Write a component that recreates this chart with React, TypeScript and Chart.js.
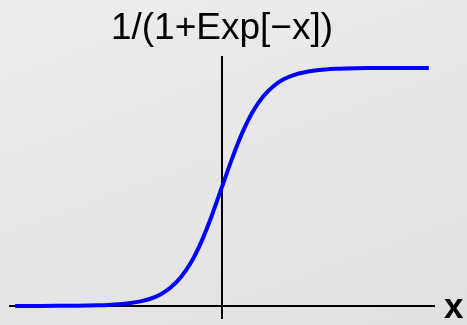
import React, { useEffect, useRef } from "react";
import { Chart, registerables } from "chart.js";

Chart.register(...registerables);

// Sample points of the logistic curve, x and y read at each position
const xValues = [
  -10, -9, -8, -7, -6.5, -6, -5.5, -5, -4.5, -4, -3.5, -3, -2.5, -2, -1.5, -1, -0.5,
  0, 0.5, 1, 1.5, 2, 2.5, 3, 3.5, 4, 4.5, 5, 5.5, 6, 6.5, 7, 8, 9, 10,
];
const yValues = [
  0.0, 0.0001, 0.0003, 0.0009, 0.0015, 0.0025, 0.004, 0.0067, 0.011, 0.018, 0.029, 0.047, 0.076, 0.119, 0.182, 0.269, 0.378,
  0.5, 0.622, 0.731, 0.818, 0.881, 0.924, 0.953, 0.971, 0.982, 0.989, 0.9933, 0.996, 0.9975, 0.9985, 0.9991, 0.9997, 0.9999, 1.0,
];

const titleText = "1/(1+Exp[\u2212x])";
const axisLabel = "x";

const FONT = "'Liberation Sans', Arial, Helvetica, sans-serif";

export default function App() {
  const canvasRef = useRef<HTMLCanvasElement | null>(null);

  useEffect(() => {
    const canvas = canvasRef.current;
    if (!canvas) return;
    const points = xValues.map((x, i) => ({ x, y: yValues[i] }));
    const onlyZero = (scale: any) => {
      scale.ticks = [{ value: 0 }];
    };
    const chart = new Chart(canvas, {
      type: "line",
      data: {
        datasets: [
          {
            data: points,
            borderColor: "#0000ff",
            borderWidth: 4,
            pointRadius: 0,
            fill: false,
            cubicInterpolationMode: "monotone",
            borderCapStyle: "butt",
            borderJoinStyle: "round",
          },
        ],
      },
      options: {
        animation: false,
        responsive: false,
        maintainAspectRatio: false,
        events: [],
        layout: { padding: { left: 9, right: 32, top: 56, bottom: 6 } },
        plugins: {
          legend: { display: false },
          title: { display: false },
          tooltip: { enabled: false },
        },
        scales: {
          x: {
            type: "linear",
            min: -10.3,
            max: 10.3,
            afterBuildTicks: onlyZero,
            ticks: { display: false },
            border: { display: false },
            grid: { color: "#000000", lineWidth: 2, drawTicks: false },
          },
          y: {
            type: "linear",
            min: -0.055,
            max: 1.05,
            afterBuildTicks: onlyZero,
            ticks: { display: false },
            border: { display: false },
            grid: { color: "#000000", lineWidth: 2, drawTicks: false },
          },
        },
      },
    });
    return () => chart.destroy();
  }, []);

  return (
    <div
      style={{
        position: "absolute",
        left: 0,
        top: 0,
        width: 467,
        height: 325,
        overflow: "hidden",
        background: "linear-gradient(160deg, #ededed 0%, #e6e6e6 55%, #e0e0e0 100%)",
      }}
    >
      <canvas ref={canvasRef} width={467} height={325} style={{ position: "absolute", left: 0, top: 0 }} />
      <div
        style={{
          position: "absolute",
          left: 0,
          width: 444,
          top: 8,
          textAlign: "center",
          fontFamily: FONT,
          fontSize: 37,
          lineHeight: "37px",
          color: "#000",
          whiteSpace: "nowrap",
        }}
      >
        {titleText}
      </div>
      <div
        style={{
          position: "absolute",
          left: 444,
          top: 288,
          fontFamily: FONT,
          fontSize: 35,
          fontWeight: "bold",
          lineHeight: "35px",
          color: "#000",
        }}
      >
        {axisLabel}
      </div>
    </div>
  );
}
